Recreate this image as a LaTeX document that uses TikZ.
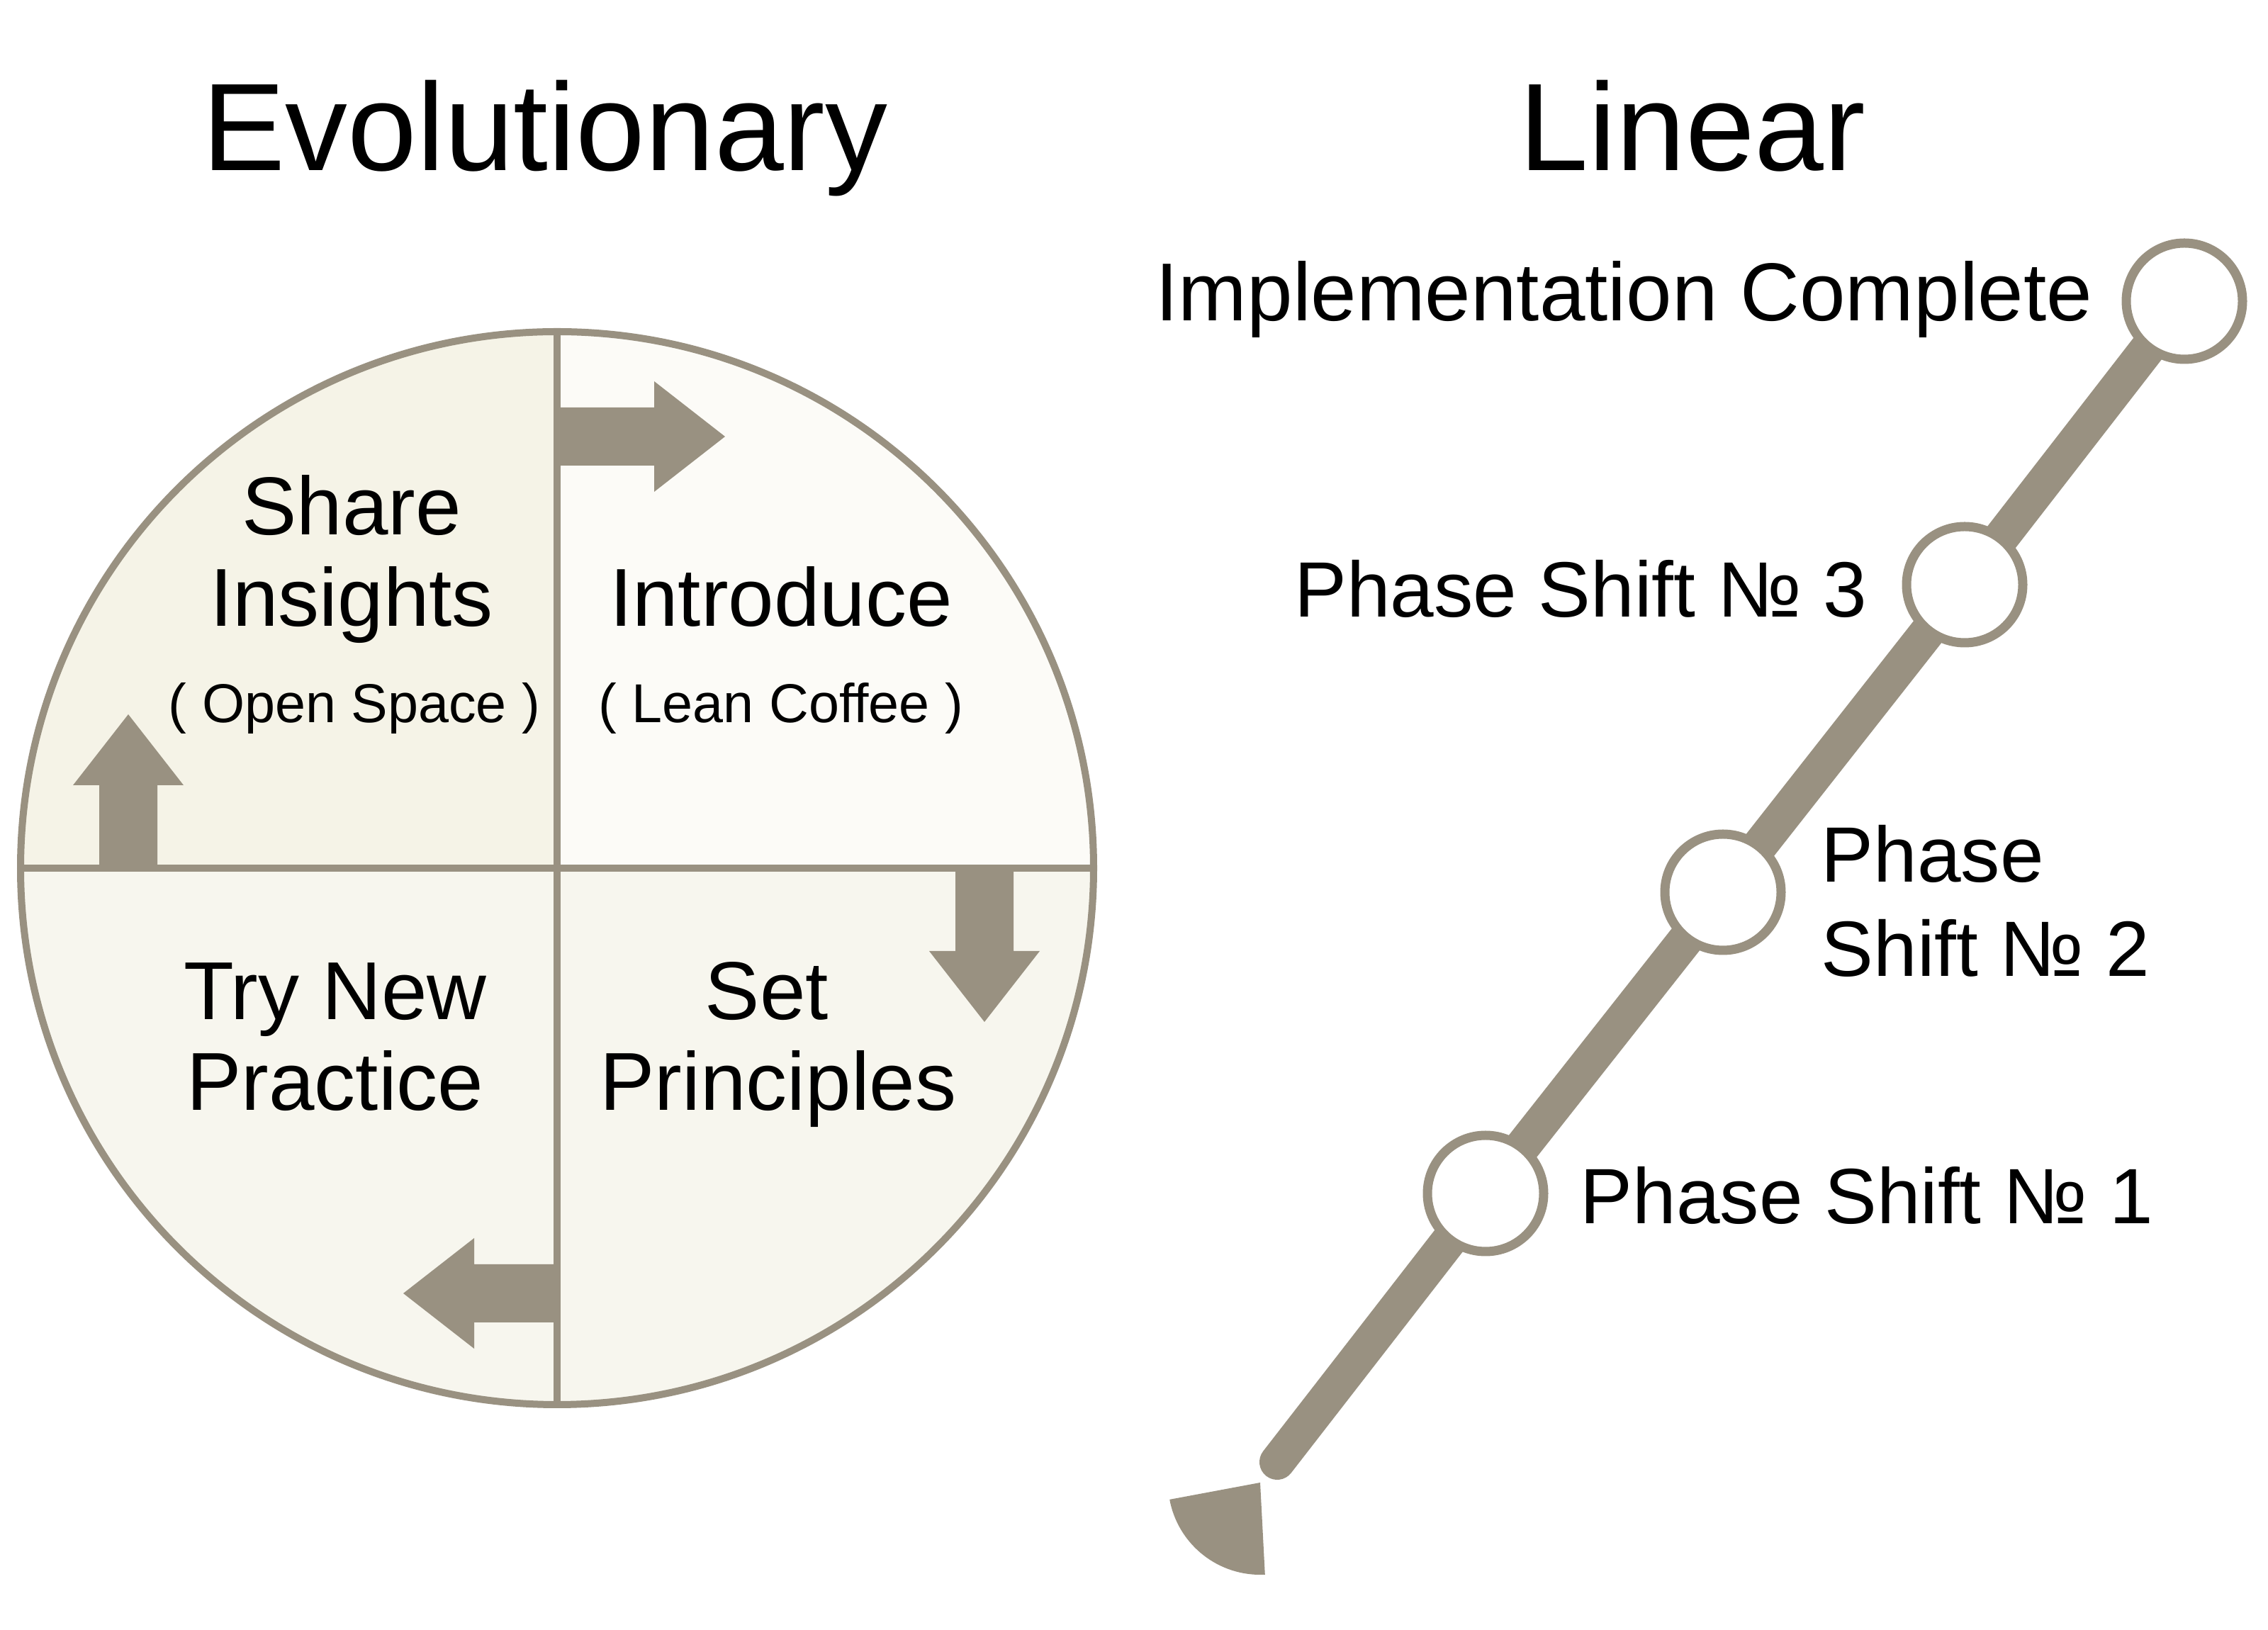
\documentclass[tikz,border=0pt]{standalone}
\usepackage{fontspec}
\setmainfont{Liberation Sans}
\usetikzlibrary{backgrounds}

\definecolor{stone}{HTML}{999181}
\definecolor{creamtl}{HTML}{F5F3E7}
\definecolor{creamtr}{HTML}{FCFBF7}
\definecolor{creambot}{HTML}{F7F6EE}

\tikzset{
  divider/.style={draw=stone, line width=0.1cm},
  track/.style={draw=stone, line width=0.5cm, line cap=round},
  milestone/.style={circle, draw=stone, fill=white, line width=0.13cm, minimum size=1.64cm, inner sep=0pt},
  titletext/.style={inner sep=0pt, font=\fontsize{50}{60}\selectfont},
  cardtext/.style={inner sep=0pt, font=\fontsize{33}{40}\selectfont},
  shifttext/.style={inner sep=0pt, font=\fontsize{31.5}{38}\selectfont},
  notetext/.style={inner sep=0pt, font=\fontsize{22}{26}\selectfont},
  pics/turnarrow/.style={code={
    \fill[stone] (0,-0.41) -- (#1,-0.41) -- (#1,-0.78) -- ++(1.0,0.78) -- (#1,0.78) -- (#1,0.41) -- (0,0.41) -- cycle;
  }},
  pics/turnarrow/.default=1.17
}

\begin{document}
\begin{tikzpicture}
\useasboundingbox (0,0) rectangle (32,23);
\begin{scope}[on background layer]
\fill[white] (0,0) rectangle (32,23);
\end{scope}

% titles
\node[titletext, anchor=base] (evotitle) at (7.69,20.59) {Evolutionary};
\node[titletext, anchor=base] (lintitle) at (23.88,20.59) {Linear};

% evolutionary wheel
\coordinate (hub) at (7.86,10.75);
\def\wheelr{7.57}
\fill[creamtl] (hub) -- ++(90:\wheelr) arc[start angle=90, end angle=180, radius=\wheelr] -- cycle;
\fill[creamtr] (hub) -- ++(0:\wheelr) arc[start angle=0, end angle=90, radius=\wheelr] -- cycle;
\fill[creambot] (hub) -- ++(180:\wheelr) arc[start angle=180, end angle=360, radius=\wheelr] -- cycle;
\node[circle, draw=stone, line width=0.1cm, minimum size=15.14cm, inner sep=0pt, outer sep=0pt] (wheel) at (hub) {};

\pic at (7.86,16.84) {turnarrow=1.37};
\pic[rotate=-90] at (13.89,10.75) {turnarrow};
\pic[rotate=180] at (7.86,4.75) {turnarrow};
\pic[rotate=90] at (1.81,10.75) {turnarrow};

\draw[divider] (wheel.north) -- (wheel.south);
\draw[divider] (wheel.west) -- (wheel.east);

\node[cardtext, anchor=base] (share) at (4.96,15.45) {Share};
\node[cardtext, anchor=base] (insights) at (4.96,14.16) {Insights};
\node[notetext, anchor=base] (openspace) at (5.00,12.80) {( Open Space )};
\node[cardtext, anchor=base] (introduce) at (11.02,14.16) {Introduce};
\node[notetext, anchor=base] (leancoffee) at (11.02,12.80) {( Lean Coffee )};
\node[cardtext, anchor=base] (trynew) at (4.73,8.61) {Try New};
\node[cardtext, anchor=base] (practice) at (4.73,7.33) {Practice};
\node[cardtext, anchor=base] (set) at (10.82,8.61) {Set};
\node[cardtext, anchor=base] (principles) at (10.98,7.33) {Principles};

% linear track
\node[milestone] (done) at (30.82,18.75) {};
\node[milestone] (shift3) at (27.72,14.75) {};
\node[milestone] (shift2) at (24.31,10.41) {};
\node[milestone] (shift1) at (20.96,6.16) {};
\coordinate (start) at (18.02,2.37);
\begin{scope}[on background layer]
\draw[track] (start) -- (shift1.center) -- (shift2.center) -- (shift3.center) -- (done.center);
\end{scope}

\coordinate (fan) at (17.78,2.08);
\fill[stone] (fan) -- ++(190.6:1.3) arc[start angle=190.6, end angle=273, radius=1.3] -- cycle;

\node[cardtext, anchor=base east] (donetext) at (29.53,18.47) {Implementation Complete};
\node[shifttext, anchor=base east] (shift3text) at (26.35,14.29) {Phase Shift № 3};
\node[shifttext, anchor=base west] (shift2top) at (25.69,10.55) {Phase};
\node[shifttext, anchor=base west] (shift2text) at (25.69,9.22) {Shift № 2};
\node[shifttext, anchor=base west] (shift1text) at (22.29,5.73) {Phase Shift № 1};
\end{tikzpicture}
\end{document}
